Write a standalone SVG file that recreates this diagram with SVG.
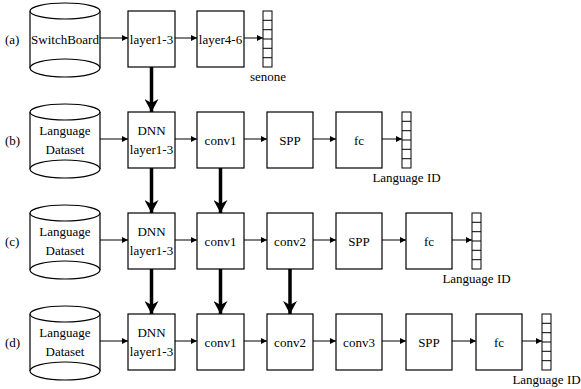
<svg xmlns="http://www.w3.org/2000/svg" width="581" height="389" viewBox="0 0 581 389">
<style>
text{font-family:'Liberation Serif','Times New Roman',Times,serif;font-size:13px;fill:#000}
.c{text-anchor:middle}
.box{fill:#fff;stroke:#000;stroke-width:1.2}
.cyl{fill:#fff;stroke:#000;stroke-width:1.2}
.vec{fill:#fff;stroke:#000;stroke-width:1}
.thin{stroke:#000;stroke-width:1;fill:none;marker-end:url(#ah)}
.thick{stroke:#000;stroke-width:3.5;fill:none;marker-end:url(#th)}
</style>
<defs>
<marker id="ah" viewBox="0 0 6 6" refX="6" refY="3" markerWidth="6" markerHeight="6" markerUnits="userSpaceOnUse" orient="auto"><path d="M0,0 L6,3 L0,6 z" fill="#000"/></marker>
<marker id="th" viewBox="0 0 13 14" refX="13" refY="7" markerWidth="13" markerHeight="14" markerUnits="userSpaceOnUse" orient="auto"><path d="M0,0 L13,7 L0,14 L4,7 z" fill="#000"/></marker>
</defs>

<!-- Row a -->
<text x="5" y="44">(a)</text>
<g id="a_db"><path class="cyl" d="M30,11 L30,68 A35,9 0 0 0 100,68 L100,11"/><path class="cyl" fill="none" d="M30,68 A35,9 0 0 1 100,68"/><ellipse class="cyl" cx="65" cy="11" rx="35" ry="8"/><text class="c" x="65" y="44">SwitchBoard</text></g>
<g id="a_l13"><rect class="box" x="128" y="11" width="47" height="56"/><text class="c" x="151.5" y="44">layer1-3</text></g>
<g id="a_l46"><rect class="box" x="197" y="11" width="47" height="56"/><text class="c" x="220.5" y="44">layer4-6</text></g>
<g id="a_vec"><rect class="vec" x="263" y="11" width="9" height="56"/><path d="M263,20.3 H272 M263,29.7 H272 M263,39 H272 M263,48.3 H272 M263,57.7 H272" stroke="#000"/><text class="c" x="268" y="81">senone</text></g>

<!-- Row b -->
<text x="5" y="145">(b)</text>
<g id="b_db"><path class="cyl" d="M30,112 L30,169 A35,9 0 0 0 100,169 L100,112"/><path class="cyl" fill="none" d="M30,169 A35,9 0 0 1 100,169"/><ellipse class="cyl" cx="65" cy="112" rx="35" ry="8"/><text class="c" x="65" y="135">Language</text><text class="c" x="65" y="154">Dataset</text></g>
<g id="b_dnn"><rect class="box" x="128" y="112" width="47" height="56"/><text class="c" x="151.5" y="135">DNN</text><text class="c" x="151.5" y="154">layer1-3</text></g>
<g id="b_conv1"><rect class="box" x="197" y="112" width="47" height="56"/><text class="c" x="220.5" y="145">conv1</text></g>
<g id="b_spp"><rect class="box" x="267" y="112" width="46" height="56"/><text class="c" x="290" y="145">SPP</text></g>
<g id="b_fc"><rect class="box" x="336" y="112" width="46" height="56"/><text class="c" x="359" y="145">fc</text></g>
<g id="b_vec"><rect class="vec" x="402" y="112" width="9" height="56"/><path d="M402,121.3 H411 M402,130.7 H411 M402,140 H411 M402,149.3 H411 M402,158.7 H411" stroke="#000"/><text class="c" x="406.5" y="182">Language ID</text></g>

<!-- Row c -->
<text x="5" y="246">(c)</text>
<g id="c_db"><path class="cyl" d="M30,213 L30,270 A35,9 0 0 0 100,270 L100,213"/><path class="cyl" fill="none" d="M30,270 A35,9 0 0 1 100,270"/><ellipse class="cyl" cx="65" cy="213" rx="35" ry="8"/><text class="c" x="65" y="236">Language</text><text class="c" x="65" y="255">Dataset</text></g>
<g id="c_dnn"><rect class="box" x="128" y="213" width="47" height="56"/><text class="c" x="151.5" y="236">DNN</text><text class="c" x="151.5" y="255">layer1-3</text></g>
<g id="c_conv1"><rect class="box" x="197" y="213" width="47" height="56"/><text class="c" x="220.5" y="246">conv1</text></g>
<g id="c_conv2"><rect class="box" x="267" y="213" width="46" height="56"/><text class="c" x="290" y="246">conv2</text></g>
<g id="c_spp"><rect class="box" x="336" y="213" width="46" height="56"/><text class="c" x="359" y="246">SPP</text></g>
<g id="c_fc"><rect class="box" x="406" y="213" width="46" height="56"/><text class="c" x="429" y="246">fc</text></g>
<g id="c_vec"><rect class="vec" x="472" y="213" width="9" height="56"/><path d="M472,222.3 H481 M472,231.7 H481 M472,241 H481 M472,250.3 H481 M472,259.7 H481" stroke="#000"/><text class="c" x="476.5" y="283">Language ID</text></g>

<!-- Row d -->
<text x="5" y="347">(d)</text>
<g id="d_db"><path class="cyl" d="M30,314 L30,371 A35,9 0 0 0 100,371 L100,314"/><path class="cyl" fill="none" d="M30,371 A35,9 0 0 1 100,371"/><ellipse class="cyl" cx="65" cy="314" rx="35" ry="8"/><text class="c" x="65" y="337">Language</text><text class="c" x="65" y="356">Dataset</text></g>
<g id="d_dnn"><rect class="box" x="128" y="314" width="47" height="56"/><text class="c" x="151.5" y="337">DNN</text><text class="c" x="151.5" y="356">layer1-3</text></g>
<g id="d_conv1"><rect class="box" x="197" y="314" width="47" height="56"/><text class="c" x="220.5" y="347">conv1</text></g>
<g id="d_conv2"><rect class="box" x="267" y="314" width="46" height="56"/><text class="c" x="290" y="347">conv2</text></g>
<g id="d_conv3"><rect class="box" x="336" y="314" width="46" height="56"/><text class="c" x="359" y="347">conv3</text></g>
<g id="d_spp"><rect class="box" x="406" y="314" width="46" height="56"/><text class="c" x="429" y="347">SPP</text></g>
<g id="d_fc"><rect class="box" x="476" y="314" width="46" height="56"/><text class="c" x="499" y="347">fc</text></g>
<g id="d_vec"><rect class="vec" x="542" y="314" width="9" height="56"/><path d="M542,323.3 H551 M542,332.7 H551 M542,342 H551 M542,351.3 H551 M542,360.7 H551" stroke="#000"/><text class="c" x="546.5" y="384">Language ID</text></g>

<g id="connectors">
<path class="thin" d="M100,38 H128"/>
<path class="thin" d="M175,38 H197"/>
<path class="thin" d="M244,38 H263"/>

<path class="thin" d="M100,139 H128"/>
<path class="thin" d="M175,139 H197"/>
<path class="thin" d="M244,139 H267"/>
<path class="thin" d="M313,139 H336"/>
<path class="thin" d="M382,139 H402"/>

<path class="thin" d="M100,240 H128"/>
<path class="thin" d="M175,240 H197"/>
<path class="thin" d="M244,240 H267"/>
<path class="thin" d="M313,240 H336"/>
<path class="thin" d="M382,240 H406"/>
<path class="thin" d="M452,240 H472"/>

<path class="thin" d="M100,341 H128"/>
<path class="thin" d="M175,341 H197"/>
<path class="thin" d="M244,341 H267"/>
<path class="thin" d="M313,341 H336"/>
<path class="thin" d="M382,341 H406"/>
<path class="thin" d="M452,341 H476"/>
<path class="thin" d="M522,341 H542"/>

<path class="thick" d="M151.5,67 V112"/>
<path class="thick" d="M151.5,168 V213"/>
<path class="thick" d="M220.5,168 V213"/>
<path class="thick" d="M151.5,269 V314"/>
<path class="thick" d="M220.5,269 V314"/>
<path class="thick" d="M290,269 V314"/>
</g>
</svg>
